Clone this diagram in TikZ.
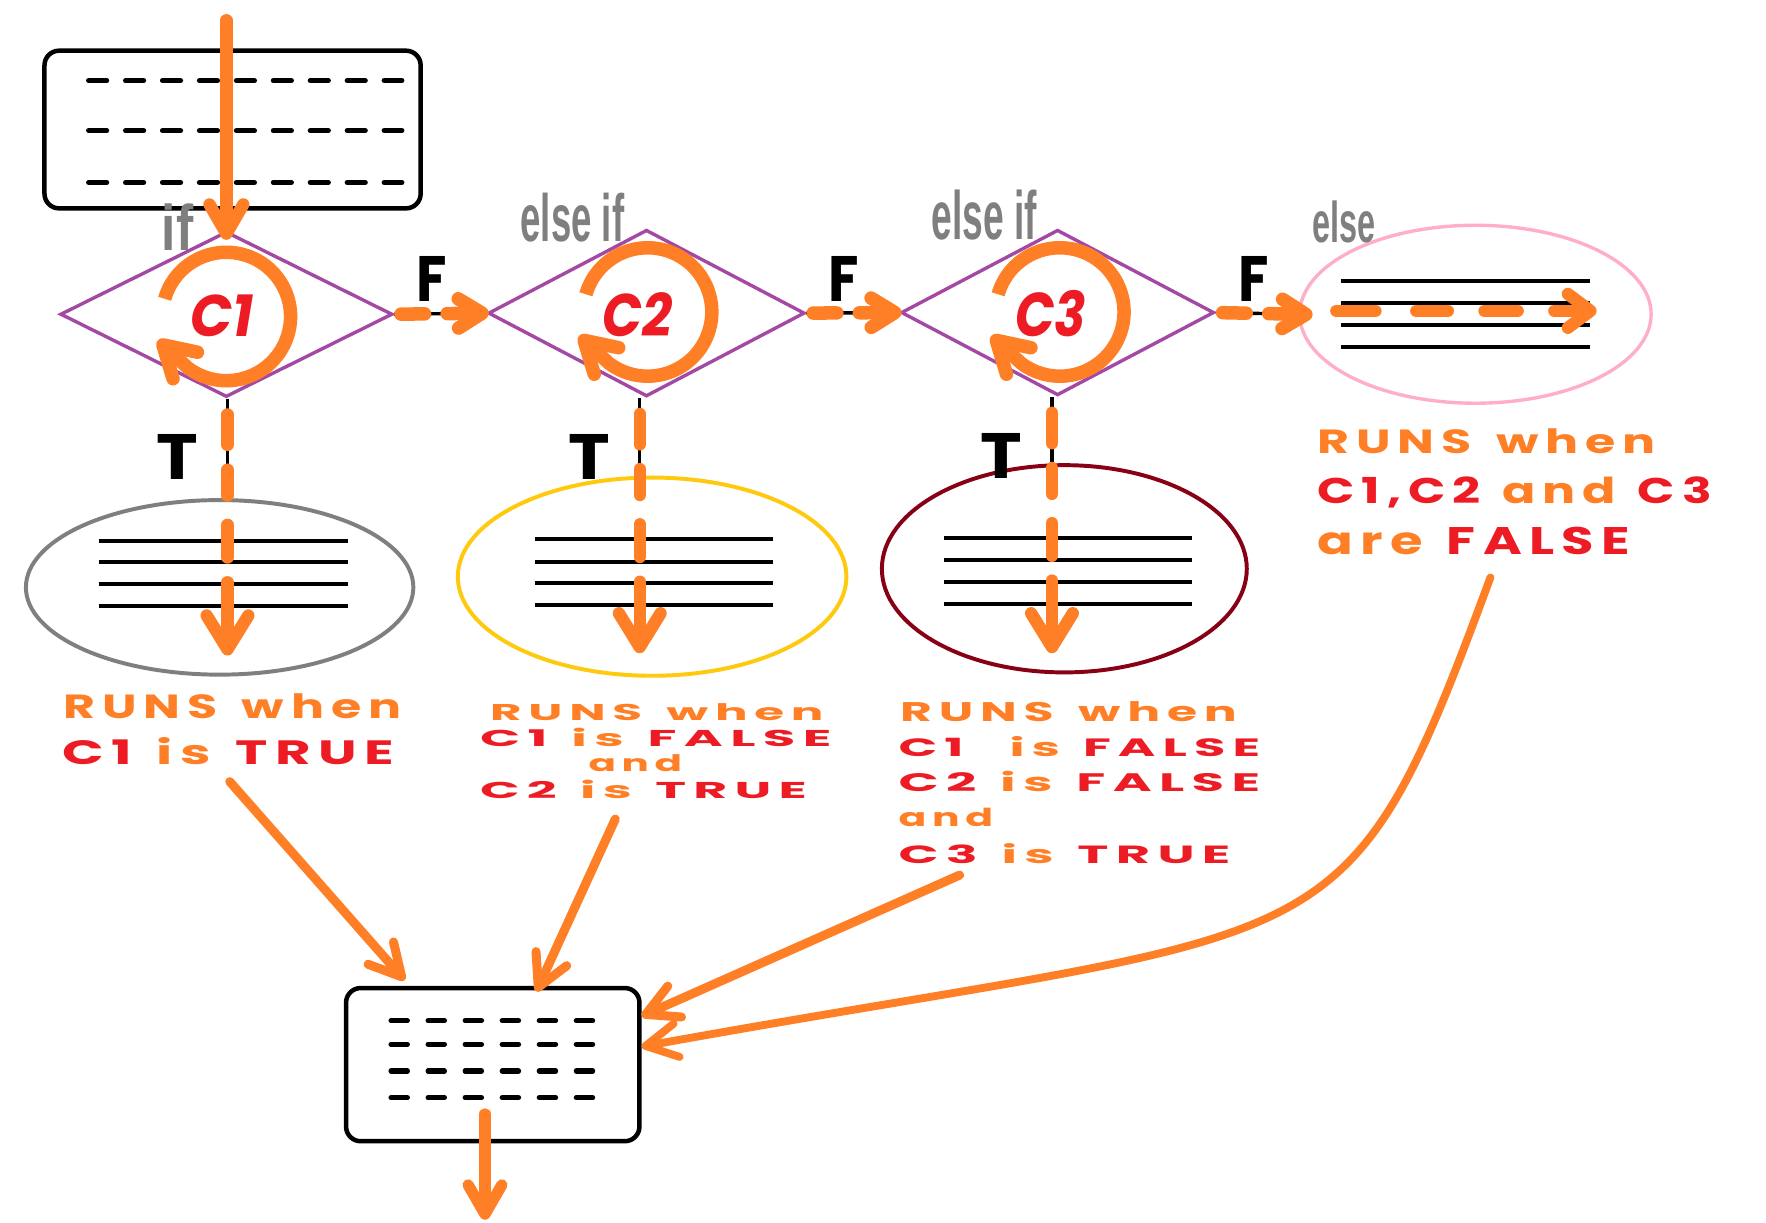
\documentclass[tikz,border=0pt]{standalone}
\usepackage{fontspec}
\usepackage{graphicx}
\usetikzlibrary{arrows.meta,shapes.geometric,calc}
\newfontfamily\handfont[LetterSpace=14]{Poppins}
\newfontfamily\handplain{Poppins}
\newfontfamily\labelfont{Liberation Sans}
\definecolor{porange}{RGB}{255,127,39}
\definecolor{pred}{RGB}{237,28,36}
\definecolor{ppurple}{RGB}{163,73,164}
\definecolor{pgray}{RGB}{127,127,127}
\definecolor{pyellow}{RGB}{255,201,14}
\definecolor{ppink}{RGB}{255,174,201}
\definecolor{pdarkred}{RGB}{136,0,21}
\newcommand{\fitbox}[3]{\resizebox{#1pt}{#2pt}{#3}}
\newcommand{\txo}[1]{{\color{porange}#1}}
\newcommand{\txr}[1]{{\color{pred}#1}}
\newcommand{\wsp}{\hspace{0.45em}}
\newcommand{\runswhen}{\txo{RUNS\hspace{0.5em}when}}
\begin{document}
\begin{tikzpicture}[x=1pt,y=-1pt,
  boxstyle/.style={draw=black, line width=4pt, rounded corners=13pt, inner sep=0pt},
  codedash/.style={line width=4.6pt, line cap=round},
  codeline/.style={line width=3.6pt},
  decision/.style={diamond, draw=ppurple, line width=3pt, inner sep=0pt},
  blockell/.style={ellipse, line width=3.5pt, inner sep=0pt},
  thinlink/.style={line width=3pt, draw=black},
  txt/.style={inner sep=0pt, anchor=base west},
  mainarrow/.style={draw=porange, line width=11pt, line cap=round,
     -{Straight Barb[length=26pt,width=30pt,round]}},
  fconn/.style={draw=porange, line width=12pt, line cap=round, shorten <=6pt,
     dash pattern=on 21pt off 20pt on 300pt off 1pt,
     -{Straight Barb[length=21pt,width=26pt,round]}},
  tconn/.style={draw=porange, line width=11pt, line cap=round, shorten <=14pt,
     dash pattern=on 27pt off 22pt on 23pt off 26pt on 29pt off 22pt on 300pt off 1pt,
     -{Straight Barb[length=30pt,width=37pt,round]}},
  pinkdash/.style={draw=porange, line width=11pt, line cap=round,
     dash pattern=on 34.7pt off 36.3pt on 28pt off 32.6pt on 29.4pt off 32.6pt on 300pt off 1pt,
     -{Straight Barb[length=20pt,width=30pt,round]}},
  feed/.style={draw=porange, line width=8pt, line cap=round,
     -{Straight Barb[length=28pt,width=30pt,round]}},
  circarrow/.style={draw=porange, line width=12pt, line cap=butt,
     -{Straight Barb[length=27pt,width=32pt,round]}},
]
\useasboundingbox (0,0) rectangle (1568,1085);
\fill[white] (0,0) rectangle (1568,1085);

% ---- top code box
\node[boxstyle, minimum width=334pt, minimum height=140pt] (topbox) at (206.5,115) {};
\foreach \yy in {71.6,116,162}
  \draw[codedash, dash pattern=on 16pt off 16.8pt] (78.7,\yy) -- (356.8,\yy);

% ---- bottom code box
\node[boxstyle, minimum width=260.5pt, minimum height=136pt] (bot) at (437.5,945.25) {};
\foreach \yy in {906.2,927.2,950.9,974.6}
  \draw[codedash, dash pattern=on 14.5pt off 18.4pt] (347.2,\yy) -- (526.6,\yy);

% ---- block ellipses
\node[blockell, draw=pgray, minimum width=344pt, minimum height=155pt] (e1) at (195,521.5) {};
\node[blockell, draw=pyellow, minimum width=345pt, minimum height=176pt] (e2) at (579,512) {};
\node[blockell, draw=pdarkred, minimum width=324pt, minimum height=184pt] (e3) at (945,505) {};
\node[blockell, draw=ppink, line width=3pt, minimum width=312pt, minimum height=158pt] (e4) at (1310,279) {};
\foreach \yy in {480,499.3,518.8,538.3} \draw[codeline] (87.6,\yy) -- (309,\yy);
\foreach \yy in {478.9,498.7,518,537.4} \draw[codeline] (475,\yy) -- (686.5,\yy);
\foreach \yy in {478,497.5,517,536.5} \draw[codeline] (838,\yy) -- (1058,\yy);
\foreach \yy in {249.5,269.3,288.9,308} \draw[codeline] (1191,\yy) -- (1411.7,\yy);

% ---- decisions
\node[decision, minimum width=295pt, minimum height=147pt] (d1) at (201,279) {};
\node[decision, minimum width=281pt, minimum height=148pt] (d2) at (574,278) {};
\node[decision, minimum width=278pt, minimum height=147pt] (d3) at (939,277.5) {};

% ---- coordinates for free ends
\coordinate (entry) at (201,18);
\coordinate (t1) at (202,582);
\coordinate (t2) at (568,580);
\coordinate (t3) at (934,580);
\coordinate (p1) at (1186.5,276);
\coordinate (p2) at (1417.6,276);
\coordinate (a1s) at (204,694);
\coordinate (a2s) at (546.3,727.2);
\coordinate (a3s) at (852,777);
\coordinate (a4s) at (1323.3,512.7);
\coordinate (exitA) at (430.6,989);
\coordinate (exitB) at (430.6,1083);

% ---- thin black links
\draw[thinlink] (d1.east) -- (d2.west);
\draw[thinlink] (d2.east) -- (d3.west);
\draw[thinlink] (d3.east) -- (e4.west);
\draw[thinlink] (d1.south -| t1) -- (e1.north -| t1);
\draw[thinlink] (d2.south -| t2) -- (e2.north -| t2);
\draw[thinlink] (d3.south -| t3) -- (e3.north -| t3);

% ---- circular arrows
\draw[circarrow] (201,281) ++(-164:57) arc[start angle=-164, end angle=127, radius=57] -- ++(-26.5,-24.4);
\draw[circarrow] (575,277) ++(-164:57) arc[start angle=-164, end angle=127, radius=57] -- ++(-26.5,-24.4);
\draw[circarrow] (941,277) ++(-164:57) arc[start angle=-164, end angle=127, radius=57] -- ++(-26.5,-24.4);

% ---- condition texts
\node[txt] (c1t) at (169,299) {\fitbox{56}{37}{\handplain\bfseries\itshape\color{pred}C1}};
\node[txt] (c2t) at (535,299) {\fitbox{62}{39}{\handplain\bfseries\itshape\color{pred}C2}};
\node[txt] (c3t) at (901,299) {\fitbox{63}{41}{\handplain\bfseries\itshape\color{pred}C3}};

% ---- gray keywords
\node[txt] (kif) at (143.5,222) {\fitbox{28}{41.5}{\labelfont\bfseries\color{pgray}if}};
\node[txt] (kei1) at (462,214.6) {\fitbox{92}{43}{\labelfont\bfseries\color{pgray}else if}};
\node[txt] (kei2) at (827,213) {\fitbox{93.5}{44}{\labelfont\bfseries\color{pgray}else if}};
\node[txt] (kel) at (1165,215) {\fitbox{56}{37}{\labelfont\bfseries\color{pgray}else}};

% ---- F / T labels
\node[txt] (f1) at (370,268) {\fitbox{27}{40}{\handplain\bfseries F}};
\node[txt] (f2) at (735.7,268) {\fitbox{27}{40}{\handplain\bfseries F}};
\node[txt] (f3) at (1099,268) {\fitbox{27}{40}{\handplain\bfseries F}};
\node[txt] (tl1) at (138.7,426) {\fitbox{37}{40}{\handplain\bfseries T}};
\node[txt] (tl2) at (504.6,426) {\fitbox{37}{40}{\handplain\bfseries T}};
\node[txt] (tl3) at (870,424.6) {\fitbox{37}{40}{\handplain\bfseries T}};

% ---- explanation texts
\node[txt] (r1a) at (56,637.7) {\fitbox{300}{22}{\handfont\bfseries\runswhen}};
\node[txt] (r1b) at (55,679) {\fitbox{295}{24}{\handfont\bfseries\txr{C1}\wsp\txo{is}\wsp\txr{TRUE}}};

\node[txt] (r2a) at (435,639.3) {\fitbox{296}{15}{\handfont\bfseries\runswhen}};
\node[txt] (r2b) at (426,663) {\fitbox{312}{16.3}{\handfont\bfseries\txr{C1}\wsp\txo{is}\wsp\txr{FALSE}}};
\node[txt] (r2c) at (522.4,685.2) {\fitbox{83}{15}{\handfont\bfseries\txo{and}}};
\node[txt] (r2d) at (426,708.8) {\fitbox{290}{16.3}{\handfont\bfseries\txr{C2}\wsp\txo{is}\wsp\txr{TRUE}}};

\node[txt] (r3a) at (799,640.7) {\fitbox{299}{17.7}{\handfont\bfseries\runswhen}};
\node[txt] (r3b) at (797.6,671.8) {\fitbox{321}{17.8}{\handfont\bfseries\txr{C1}\wsp\wsp\txo{is}\wsp\txr{FALSE}}};
\node[txt] (r3c) at (797.6,703) {\fitbox{321}{18}{\handfont\bfseries\txr{C2}\wsp\txo{is}\wsp\txr{FALSE}}};
\node[txt] (r3d) at (797.6,734) {\fitbox{84}{16.3}{\handfont\bfseries\txo{and}}};
\node[txt] (r3e) at (797.6,766.5) {\fitbox{294.6}{17.7}{\handfont\bfseries\txr{C3}\wsp\txo{is}\wsp\txr{TRUE}}};

\node[txt] (r4a) at (1169.6,402.5) {\fitbox{300}{22}{\handfont\bfseries\runswhen}};
\node[txt] (r4b) at (1169.6,446.9) {\fitbox{350}{23.7}{\handfont\bfseries\txr{C1,C2}\wsp\txo{and}\wsp\txr{C3}}};
\node[txt] (r4c) at (1169.6,491.9) {\fitbox{277.5}{24.3}{\handfont\bfseries\txo{are}\wsp\txr{FALSE}}};

% ---- orange flow
\draw[mainarrow, shorten >=-9pt] (entry) -- (d1.north);
\draw[fconn, shorten >=-2pt] (d1.east) -- (d2.west);
\draw[fconn, shorten >=-2pt] (d2.east) -- (d3.west);
\draw[fconn, shorten >=-13pt] (d3.east) -- (e4.west);
\draw[tconn] (d1.south -| t1) -- (t1);
\draw[tconn] (d2.south -| t2) -- (t2);
\draw[tconn] (d3.south -| t3) -- (t3);
\draw[pinkdash] (p1) -- (p2);
\draw[feed] (a1s) -- ($(bot.north west)+(54,-5)$);
\draw[feed] (a2s) -- ($(bot.north west)+(171,5)$);
\draw[feed] (a3s) -- ($(bot.north east)+(0,27)$);
\draw[feed, line width=7pt] (a4s) .. controls (1192,869) and (1190,817) .. ($(bot.north east)+(0,54)$);
\draw[mainarrow, line width=10pt] (exitA) -- (exitB);
\end{tikzpicture}
\end{document}
